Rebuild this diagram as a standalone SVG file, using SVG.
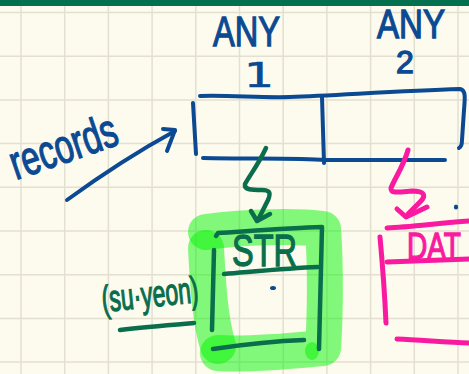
<svg xmlns="http://www.w3.org/2000/svg" width="469" height="374" viewBox="0 0 469 374">
<defs>
<style>
.grid{stroke:#E3DFD1;stroke-width:1.5}
.ink{fill:none;stroke-linecap:round;stroke-linejoin:round}
.blue{stroke:#0B4A92;stroke-width:4}
.green{stroke:#0A6D4B;stroke-width:4.5}
.pink{stroke:#FA1AA0;stroke-width:5}
.hl{fill:none;stroke:#00F500;stroke-opacity:0.49;stroke-linecap:round;stroke-linejoin:round}
.tb{fill:#0B4A92;stroke:#0B4A92;stroke-width:1.3;font-family:"Liberation Sans",Arial,sans-serif}
.tg{fill:#0A6D4B;stroke:#0A6D4B;stroke-width:1.3;font-family:"Liberation Sans",Arial,sans-serif}
.tp{fill:#FA1AA0;stroke:#FA1AA0;stroke-width:1.3;font-family:"Liberation Sans",Arial,sans-serif}
</style>
</defs>
<rect x="0" y="0" width="469" height="374" fill="#FDFBEE"/>
<g id="grid">
<path class="grid" d="M21,0V374M64.7,0V374M108.4,0V374M152.1,0V374M195.8,0V374M239.5,0V374M283.2,0V374M326.9,0V374M370.6,0V374M414.3,0V374M458,0V374"/>
<path class="grid" d="M0,12.5H469M0,56.2H469M0,99.9H469M0,143.6H469M0,187.3H469M0,231H469M0,274.7H469M0,318.4H469M0,362.1H469"/>
</g>
<rect x="0" y="0" width="469" height="6" fill="#037050"/>

<g id="any1-label">
<text class="tb" x="213" y="46" font-size="42" textLength="67" lengthAdjust="spacingAndGlyphs">ANY</text>
<text class="tb" x="259" y="87" font-size="33" text-anchor="middle" textLength="30" lengthAdjust="spacingAndGlyphs" style="font-family:'DejaVu Sans',sans-serif;stroke-width:0.6">1</text>
</g>
<g id="any2-label">
<text class="tb" x="377" y="38" font-size="40" textLength="68" lengthAdjust="spacingAndGlyphs">ANY</text>
<text class="tb" x="405" y="73" font-size="32" text-anchor="middle">2</text>
</g>

<g id="records-label">
<text class="tb" x="16" y="180" font-size="48" textLength="111" lengthAdjust="spacingAndGlyphs" transform="rotate(-19 16 180)">records</text>
</g>

<g id="records-array">
<path class="ink blue" d="M200,96 C230,95 260,98 290,97 C340,95 400,91 460,89 C466,90 465,98 464,110 L462,140 C462,145 461,147 459,148"/>
<path class="ink blue" d="M193,103 L196,154"/>
<path class="ink blue" d="M203,158 C250,159 300,158 325,160 L445,160"/>
<path class="ink blue" d="M322,97 L324,163"/>
</g>

<g id="str-box">
<path class="hl" stroke-width="36" d="M206,232 C250,226 300,226 323,229 C326,270 325,320 323,348 C290,351 250,355 218,353"/>
<path class="hl" stroke-width="36" d="M206,248 C208,285 210,320 218,346"/>
<ellipse cx="312" cy="351" rx="7" ry="9" fill="#00F500" fill-opacity="0.49"/>
<path class="ink green" d="M216,236 L218,233 C250,231 290,228 322,227 L319,349"/>
<path class="ink green" d="M214,250 L212,330"/>
<path class="ink green" d="M224,274 C260,271 290,268 318,267"/>
<path class="ink green" d="M213,349 C240,345 275,341 304,340"/>
<text class="tg" x="232" y="266" font-size="44" textLength="65" lengthAdjust="spacingAndGlyphs">STR</text>
<ellipse cx="273" cy="288" rx="3" ry="2" fill="#0B4A92"/>
</g>

<g id="suyeon-label">
<text class="tg" x="103" y="312" font-size="37" textLength="97" lengthAdjust="spacingAndGlyphs" transform="rotate(-6 103 312)">(su·yeon)</text>
<path class="ink green" d="M120,330 C145,327 170,325 194,323"/>
</g>

<g id="date-box">
<path class="ink pink" d="M387,228 C410,227 440,223 469,221"/>
<path class="ink pink" d="M380,237 C383,270 385,300 386,323"/>
<path class="ink pink" d="M387,262 C420,261 445,260 469,259"/>
<path class="ink pink" d="M397,339 C420,340 445,342 469,343"/>
<text class="tp" x="407" y="259" font-size="36" textLength="54" lengthAdjust="spacingAndGlyphs">DAT</text>
<ellipse cx="456" cy="207" rx="2.2" ry="2.5" fill="#0B4A92"/>
</g>

<g id="connectors">
<path class="ink blue" d="M67,200 C100,176 140,150 175,131"/>
<path class="ink blue" d="M163,129 L175,130 L167,151"/>
<path class="ink green" d="M266,148 C258,165 250,175 245,184 C244,190 252,190 262,190 C270,190 271,193 268,200 L258,220"/>
<path class="ink green" d="M251,211 L257,221 L270,214"/>
<path class="ink pink" d="M408,150 C404,165 395,178 391,188 C390,194 400,192 412,191 C424,191 427,195 420,202 L408,214"/>
<path class="ink pink" d="M397,209 L406,217 L427,207"/>
</g>
</svg>
